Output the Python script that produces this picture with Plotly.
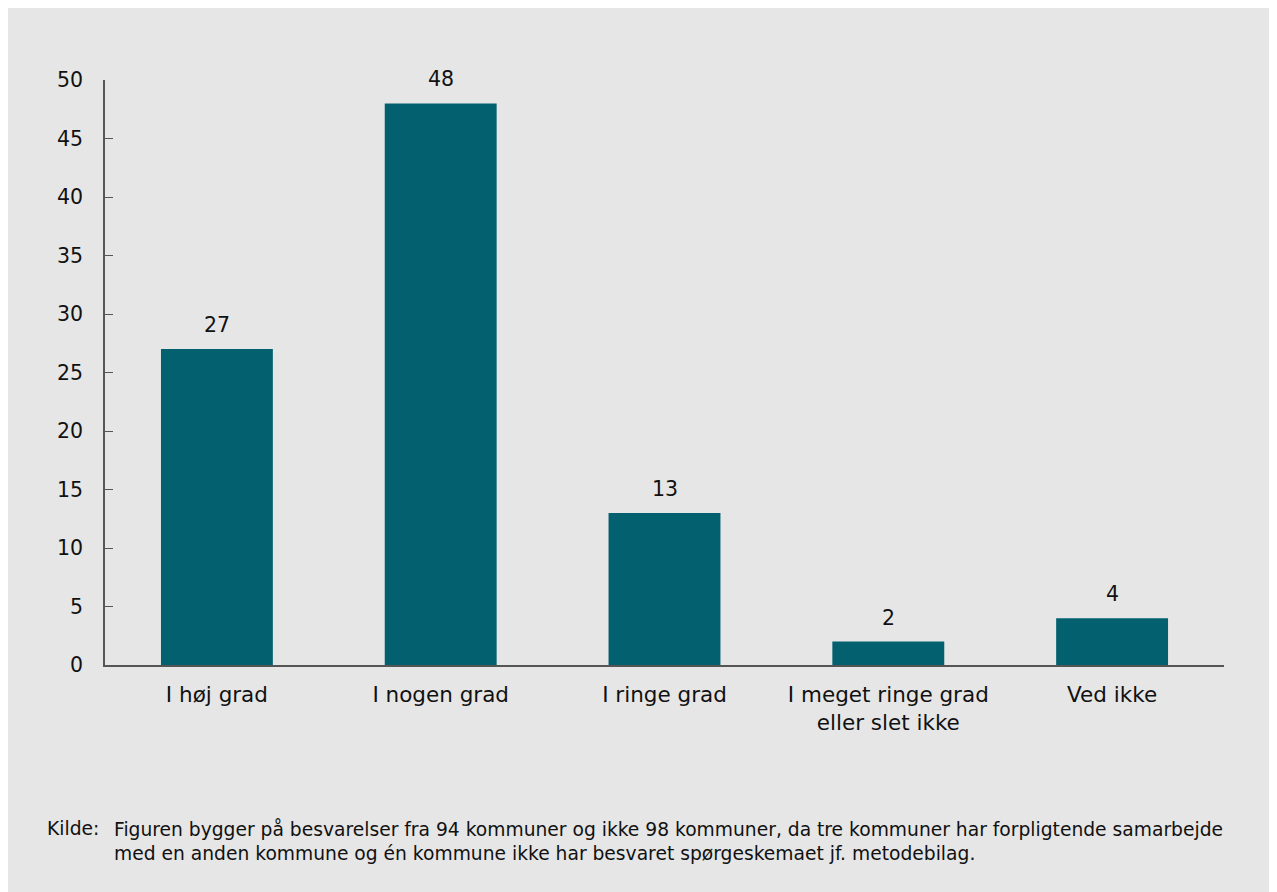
import plotly.graph_objects as go

categories = ["I høj grad", "I nogen grad", "I ringe grad", "I meget ringe grad<br>eller slet ikke", "Ved ikke"]
values = [27, 48, 13, 2, 4]
y_ticks = [0, 5, 10, 15, 20, 25, 30, 35, 40, 45, 50]
source_label = "Kilde:"
source_lines = ["Figuren bygger på besvarelser fra 94 kommuner og ikke 98 kommuner, da tre kommuner har forpligtende samarbejde",
                "med en anden kommune og én kommune ikke har besvaret spørgeskemaet jf. metodebilag."]

BG = "#e6e6e6"
BAR = "#02606f"
AXIS = "#555555"
TXT = "#111111"
FONT = "DejaVu Sans"

fig = go.Figure(go.Bar(x=categories, y=values, marker=dict(color=BAR, line=dict(width=0)), width=0.5))

for c, v in zip(categories, values):
    fig.add_annotation(x=c, y=v, text=str(v), showarrow=False, yanchor="bottom", yshift=10,
                       font=dict(family=FONT, size=20.5, color=TXT))

fig.add_annotation(xref="paper", yref="paper", x=-0.0536, y=-0.258, xanchor="left", yanchor="top",
                   text=source_label, showarrow=False, align="left",
                   font=dict(family=FONT, size=18.7, color=TXT))
for i, line in enumerate(source_lines):
    fig.add_annotation(xref="paper", yref="paper", x=0.0064, y=-0.258 - i * 0.0435,
                       xanchor="left", yanchor="top",
                       text=line, showarrow=False, align="left",
                       font=dict(family=FONT, size=18.7, color=TXT))

fig.update_layout(
    width=1269, height=884,
    margin=dict(l=97, r=53, t=72, b=227),
    paper_bgcolor=BG, plot_bgcolor=BG,
    showlegend=False,
    font=dict(family=FONT, size=19, color=TXT),
    xaxis=dict(showline=True, linecolor=AXIS, linewidth=1.5, ticks="", showgrid=False,
               tickfont=dict(size=21.5, color=TXT), ticklabelstandoff=9),
    yaxis=dict(range=[0, 50], tickvals=y_ticks, showline=True, linecolor=AXIS, linewidth=1.5,
               ticks="inside", ticklen=8, tickcolor=AXIS, showgrid=False, zeroline=False,
               tickfont=dict(size=20.5, color=TXT), ticklabelstandoff=16),
)

fig.write_html("out.html")
